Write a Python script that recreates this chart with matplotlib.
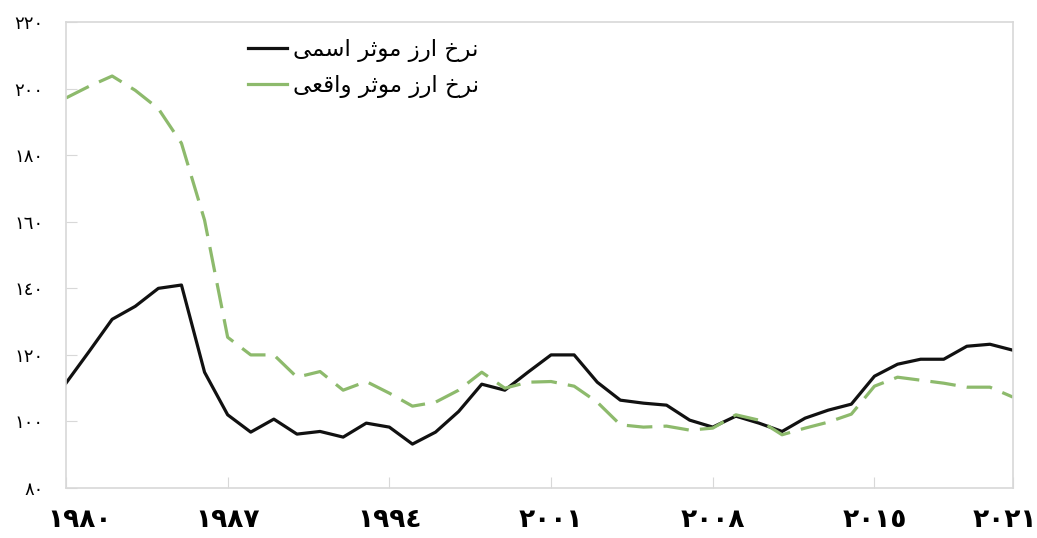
import numpy as np
import matplotlib
matplotlib.use("Agg")
import matplotlib.pyplot as plt
import matplotlib.transforms as mtransforms

plt.rcParams['font.family'] = ['DejaVu Sans']

years = list(range(1980, 2022))

# nominal effective exchange rate (black)
nominal = [111.5, 121, 130.7, 134.6, 140, 141, 114.8, 102, 96.8, 100.7,
           96.2, 97, 95.3, 99.5, 98.3, 93.2, 96.8, 103, 111.2, 109.4,
           114.8, 120, 120, 111.8, 106.4, 105.5, 104.9, 100.4, 98.3, 101.6,
           99.5, 97, 101, 103.4, 105.2, 113.6, 117.2, 118.7, 118.7, 122.6,
           123.2, 121.4]

# real effective exchange rate (green dashed)
real = [197.2, 200.7, 203.8, 199.5, 194, 183.6, 160.5, 125.3, 120, 120,
        113.3, 115, 109.4, 112, 108.5, 104.6, 105.8, 109.4, 114.8, 110,
        111.8, 112, 110.6, 105.8, 99, 98.3, 98.6, 97.4, 98, 102,
        100.4, 96, 98, 99.8, 102.2, 110.6, 113.3, 112.4, 111.5, 110.3,
        110.3, 107.3]

xtick_years = [1980, 1987, 1994, 2001, 2008, 2015, 2021]
xtick_labels = ['١٩٨٠', '١٩٨٧', '١٩٩٤', '٢٠٠١', '٢٠٠٨', '٢٠١٥', '٢٠٢١']
ytick_vals = [80, 100, 120, 140, 160, 180, 200, 220]
ytick_labels = ['٨٠', '١٠٠', '١٢٠', '١٤٠', '١٦٠', '١٨٠', '٢٠٠', '٢٢٠']

# legend labels, pre-shaped (presentation forms) in visual order
# "نرخ ارز موثر اسمی" and "نرخ ارز موثر واقعی"
lab_nominal = '\uFEF0\uFEE4\uFEB3\uFE8D \uFEAE\uFE9B\uFEEE\uFEE3 \uFEAF\uFEAD\uFE8D \uFEA5\uFEAE\uFEE7'
lab_real = '\uFEF0\uFECC\uFED7\uFE8D\uFEED \uFEAE\uFE9B\uFEEE\uFEE3 \uFEAF\uFEAD\uFE8D \uFEA5\uFEAE\uFEE7'

fig = plt.figure(figsize=(10.37, 5.38), dpi=100)
ax = fig.add_axes([0.0636, 0.0929, 0.9133, 0.866])

ax.plot(years, nominal, color='#111111', lw=2.3, label=lab_nominal,
        solid_joinstyle='round')
ax.plot(years, real, color='#8dba6c', lw=2.3, linestyle=(0, (8, 3.5)),
        label=lab_real)

ax.set_xlim(1980, 2021)
ax.set_ylim(80, 220)
ax.set_xticks(xtick_years)
ax.set_xticklabels(xtick_labels, fontsize=19, fontweight='bold')
ax.set_yticks(ytick_vals)
ax.set_yticklabels(ytick_labels, fontsize=13)

for s in ax.spines.values():
    s.set_color('#d8d8d8')
    s.set_linewidth(1.2)

ax.tick_params(axis='x', direction='in', length=8, color='#d8d8d8', pad=14)
ax.tick_params(axis='y', direction='in', length=8, color='#d8d8d8', pad=16)

# first and last year labels are pulled inside the figure
xlabs = ax.get_xticklabels()
xlabs[0].set_transform(xlabs[0].get_transform() +
                       mtransforms.ScaledTranslation(14 / 100, 0, fig.dpi_scale_trans))
xlabs[-1].set_transform(xlabs[-1].get_transform() +
                        mtransforms.ScaledTranslation(-8 / 100, 0, fig.dpi_scale_trans))

leg = ax.legend(loc='upper left', bbox_to_anchor=(0.17, 1.01), frameon=False,
                fontsize=16.5, handlelength=1.7, handletextpad=0.3,
                labelspacing=0.5)
leg.get_lines()[1].set_linestyle('-')

fig.savefig('out.png', dpi=100)
